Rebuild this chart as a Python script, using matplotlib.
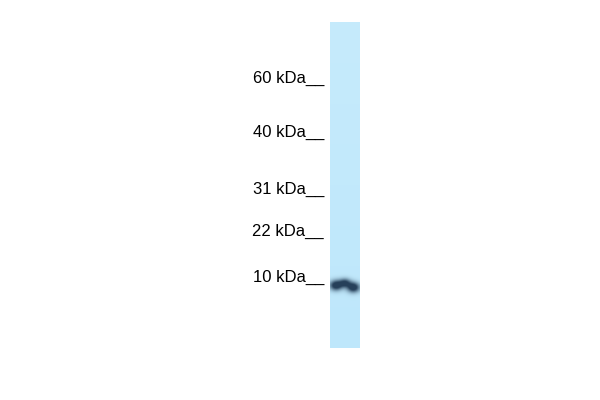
import matplotlib.pyplot as plt
import numpy as np

# marker ladder (label, y position in pixels)
markers = ["60 kDa", "40 kDa", "31 kDa", "22 kDa", "10 kDa"]
marker_y = [78, 132, 189, 231, 277]

# lane geometry (pixels)
lane_x = (330, 360)
lane_y = (22, 348)

# band blobs: x centre, y centre, x width, y width, strength
band_x = [336.0, 345.0, 353.5]
band_y = [285.5, 283.0, 287.5]
band_sx = [4.5, 4.0, 4.5]
band_sy = [3.5, 3.0, 3.5]
band_amp = [1.3, 1.0, 1.3]

fig = plt.figure(figsize=(6, 4), dpi=100)
ax = fig.add_axes([0, 0, 1, 1])
ax.set_xlim(0, 600)
ax.set_ylim(400, 0)
ax.axis("off")

# build lane image
nx, ny = 60, 652
xs = np.linspace(lane_x[0], lane_x[1], nx)
ys = np.linspace(lane_y[0], lane_y[1], ny)
X, Y = np.meshgrid(xs, ys)
bg = np.array([190, 231, 251]) / 255.0
top = np.array([198, 235, 252]) / 255.0
t = (Y - lane_y[0]) / (lane_y[1] - lane_y[0])
img = top[None, None, :] * (1 - t[..., None]) + bg[None, None, :] * t[..., None]
dens = np.zeros_like(X)
for cx, cy, sx, sy, a in zip(band_x, band_y, band_sx, band_sy, band_amp):
    dens += a * np.exp(-((X - cx) ** 2) / (2 * sx ** 2) - ((Y - cy) ** 2) / (2 * sy ** 2))
dens = np.clip(dens, 0, 1)
dark = np.array([38, 64, 90]) / 255.0
img = img * (1 - dens[..., None]) + dark[None, None, :] * dens[..., None]
ax.imshow(img, extent=[lane_x[0], lane_x[1], lane_y[1], lane_y[0]],
          aspect="auto", interpolation="bilinear")

for lab, y in zip(markers, marker_y):
    ax.text(324, y, lab + "__", ha="right", va="center", fontsize=12,
            family="Liberation Sans", color="black")

fig.savefig("out.png", dpi=100)
